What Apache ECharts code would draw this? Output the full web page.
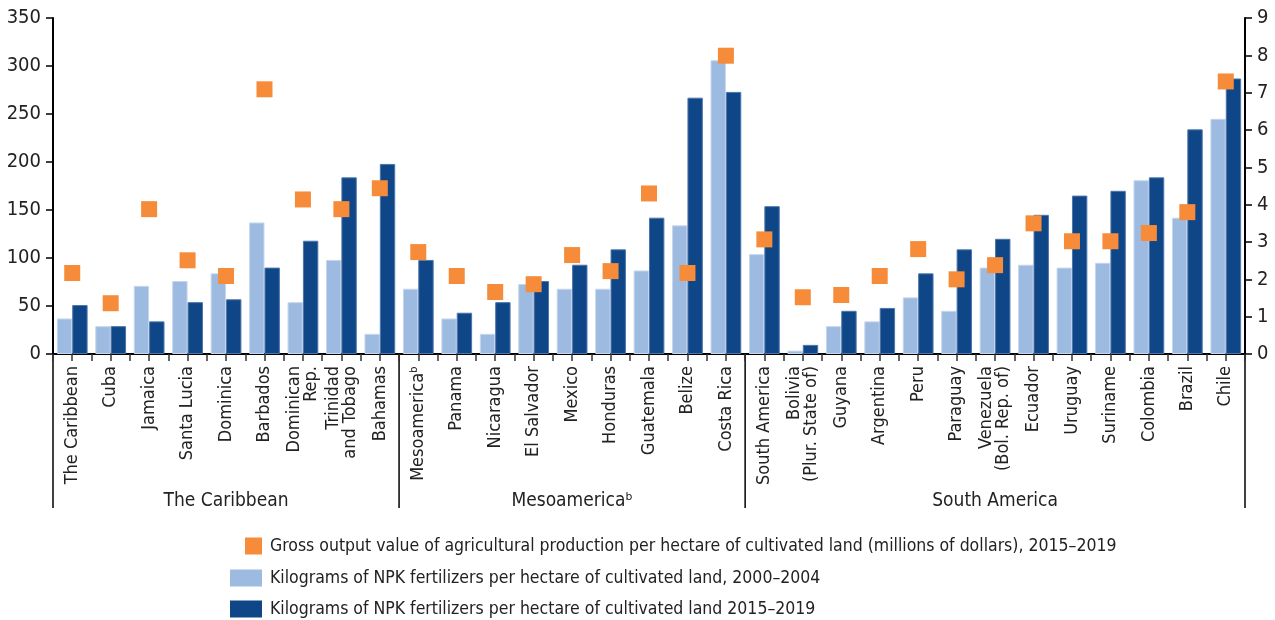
<!DOCTYPE html>
<html>
<head>
<meta charset="utf-8">
<script src="https://cdn.jsdelivr.net/npm/echarts@6/dist/echarts.min.js"></script>
<style>
html, body { margin: 0; padding: 0; background: #fff; }
#chart { width: 1275px; height: 620px; }
</style>
</head>
<body>
<div id="chart"></div>
<script>
// categories, grouped by sub-region
var categories = ['The Caribbean', 'Cuba', 'Jamaica', 'Santa Lucia', 'Dominica', 'Barbados', 'Dominican\nRep.', 'Trinidad\nand Tobago', 'Bahamas',
    'Mesoamerica\u1d47', 'Panama', 'Nicaragua', 'El Salvador', 'Mexico', 'Honduras', 'Guatemala', 'Belize', 'Costa Rica',
    'South America', 'Bolivia\n(Plur. State of)', 'Guyana', 'Argentina', 'Peru', 'Paraguay', 'Venezuela\n(Bol. Rep. of)', 'Ecuador', 'Uruguay', 'Suriname', 'Colombia', 'Brazil', 'Chile'];
var groupNames = ['The Caribbean', 'Mesoamerica\u1d47', 'South America'];
var groupSizes = [9, 9, 13];

// kg NPK per ha, 2000-2004
var npk2000 = [37, 29, 71, 76, 84, 137, 54, 98, 21,
    68, 37, 21, 73, 68, 68, 87, 134, 306,
    104, 3.5, 29, 34, 59, 45, 90, 93, 90, 95, 181, 142, 245];
// kg NPK per ha, 2015-2019
var npk2015 = [51, 29, 34, 54, 57, 90, 118, 184, 198,
    98, 43, 54, 76, 93, 109, 142, 267, 273,
    154, 9.5, 45, 48, 84, 109, 120, 145, 165, 170, 184, 234, 287];
// gross output value per ha (millions of dollars), 2015-2019
var grossOutput = [2.17, 1.36, 3.88, 2.51, 2.09, 7.09, 4.14, 3.88, 4.44,
    2.73, 2.09, 1.66, 1.87, 2.65, 2.22, 4.30, 2.17, 7.99,
    3.07, 1.52, 1.58, 2.09, 2.81, 2.0, 2.38, 3.50, 3.02, 3.02, 3.24, 3.80, 7.30];

var leftTicks = [0, 350, 50];
var rightTicks = [0, 9, 1];

var nameGross = 'Gross output value of agricultural production per hectare of cultivated land (millions of dollars), 2015\u20132019';
var name2000 = 'Kilograms of NPK fertilizers per hectare of cultivated land, 2000\u20132004';
var name2015 = 'Kilograms of NPK fertilizers per hectare of cultivated land 2015\u20132019';

var FONT = "'Liberation Sans Narrow', 'DejaVu Sans Condensed', 'Roboto', sans-serif";

var chart = echarts.init(document.getElementById('chart'));

var legendText = { fontFamily: FONT, fontSize: 17.5, color: '#222', lineHeight: 17, padding: [0, 0, 0, 3] };

var option = {
    animation: false,
    textStyle: { fontFamily: FONT },
    grid: { left: 53, right: 30, top: 18, bottom: 266 },
    legend: [
        {
            orient: 'vertical',
            left: 245, top: 537, padding: 0,
            itemWidth: 17, itemHeight: 17,
            icon: 'rect',
            data: [nameGross],
            textStyle: legendText
        },
        {
            orient: 'vertical',
            left: 230, top: 569, padding: 0,
            itemWidth: 32, itemHeight: 17, itemGap: 13,
            icon: 'rect',
            data: [name2000, name2015],
            itemStyle: { borderWidth: 0 },
            textStyle: legendText
        }
    ],
    xAxis: [
        {
            type: 'category',
            data: categories,
            axisLine: { lineStyle: { color: '#000', width: 2 } },
            axisTick: { show: false },
            axisLabel: {
                rotate: 90, interval: 0, margin: 12,
                fontFamily: FONT, fontSize: 18, color: '#222', lineHeight: 17
            }
        },
        {
            // tick marks at category edges and centres
            type: 'value',
            min: 0, max: categories.length, interval: 0.5,
            position: 'bottom',
            axisLine: { show: false },
            axisLabel: { show: false },
            splitLine: { show: false },
            axisTick: { length: 7, lineStyle: { color: '#333', width: 1.5 } }
        }
    ],
    yAxis: [
        {
            type: 'value',
            min: leftTicks[0], max: leftTicks[1], interval: leftTicks[2],
            axisLine: { show: true, lineStyle: { color: '#000', width: 2 } },
            axisTick: { show: true, length: 7, lineStyle: { color: '#000', width: 1.5 } },
            splitLine: { show: false },
            axisLabel: { margin: 12, fontFamily: FONT, fontSize: 20, color: '#222' }
        },
        {
            type: 'value',
            position: 'right',
            min: rightTicks[0], max: rightTicks[1], interval: rightTicks[2],
            axisLine: { show: true, lineStyle: { color: '#000', width: 2 } },
            axisTick: { show: true, length: 7, lineStyle: { color: '#000', width: 1.5 } },
            splitLine: { show: false },
            axisLabel: { margin: 12, fontFamily: FONT, fontSize: 20, color: '#222' }
        }
    ],
    series: [
        {
            name: name2000,
            type: 'bar',
            data: npk2000,
            barGap: '0%',
            barCategoryGap: '20%',
            itemStyle: { color: '#9dbae1', borderColor: '#c6d6ee', borderWidth: 1 }
        },
        {
            name: name2015,
            type: 'bar',
            data: npk2015,
            itemStyle: { color: '#0f4687', borderColor: '#4d76aa', borderWidth: 1 }
        },
        {
            name: nameGross,
            type: 'scatter',
            yAxisIndex: 1,
            data: grossOutput,
            symbol: 'rect',
            symbolSize: 16,
            z: 5,
            itemStyle: { color: '#f68c3a', opacity: 1 }
        }
    ]
};
chart.setOption(option);

// group separators and group names below the category labels
var y0 = chart.convertToPixel({ yAxisIndex: 0 }, 0);
var yEnd = 508;
var graphics = [];
var start = 0;
for (var i = 0; i <= groupSizes.length; i++) {
    var x = chart.convertToPixel({ xAxisIndex: 1 }, start);
    graphics.push({
        type: 'line',
        shape: { x1: x, y1: y0, x2: x, y2: yEnd },
        style: { stroke: '#000', lineWidth: 1.5 }
    });
    if (i < groupSizes.length) {
        var xc = chart.convertToPixel({ xAxisIndex: 1 }, start + groupSizes[i] / 2);
        graphics.push({
            type: 'text',
            x: xc, y: 501,
            style: {
                text: groupNames[i],
                fontFamily: FONT, fontSize: 19, fill: '#222',
                align: 'center', verticalAlign: 'middle'
            }
        });
        start += groupSizes[i];
    }
}
chart.setOption({ graphic: graphics });
</script>
</body>
</html>
